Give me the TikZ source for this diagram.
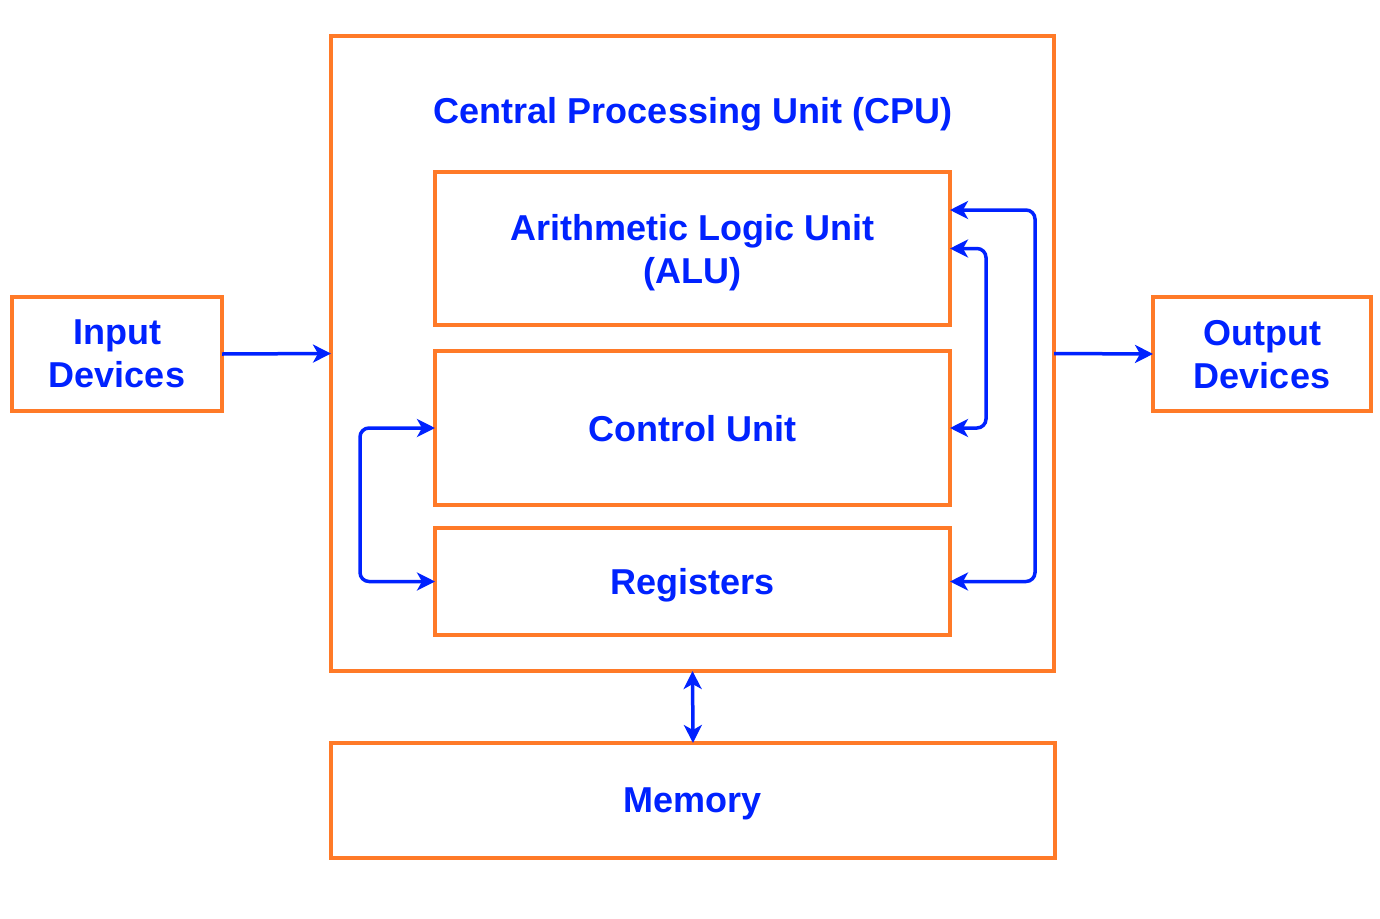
\documentclass[tikz,border=0pt]{standalone}
\usepackage{fontspec}
\setmainfont{Liberation Sans}
\usetikzlibrary{arrows.meta,positioning,calc}
\definecolor{boxorange}{RGB}{255,122,40}
\definecolor{lineblue}{RGB}{0,34,255}
\newcommand\nodep[1]{\raisebox{0pt}[\height][0pt]{#1}}
\begin{document}
\begin{tikzpicture}[x=1pt,y=-1pt,
  txt/.style={text=lineblue,align=center,font=\fontsize{36}{43}\selectfont\bfseries},
  box/.style={txt,draw=boxorange,line width=3.2pt,rectangle,inner sep=0pt,outer sep=0pt},
  conn/.style={draw=lineblue,line width=3.5pt,rounded corners=9pt,
    -{Stealth[length=18pt,width=18pt,inset=5pt]}},
  dconn/.style={conn,{Stealth[length=18pt,width=18pt,inset=5pt]}-{Stealth[length=18pt,width=18pt,inset=5pt]}}]
\useasboundingbox (0,0) rectangle (1380,918);
\node[box,minimum width=723pt,minimum height=635pt] (cpu) at (692.5,353.5) {};
\node[txt] (title) at (693,110) {\nodep{Central Processing Unit (CPU)}};
\node[box,minimum width=515pt,minimum height=153pt] (alu) at (692.5,248.5) {Arithmetic Logic Unit\\\nodep{(ALU)}};
\node[box,minimum width=515pt,minimum height=154pt] (cu) at (692.5,428) {\nodep{Control Unit}};
\node[box,minimum width=515pt,minimum height=107pt] (reg) at (692.5,581.5) {\nodep{Registers}};
\node[box,minimum width=210pt,minimum height=114pt] (inp) at (117,354) {Input\\\nodep{Devices}};
\node[box,minimum width=218pt,minimum height=114pt] (out) at (1262,354) {Output\\\nodep{Devices}};
\node[box,minimum width=724pt,minimum height=115pt] (mem) at (693,800.5) {\nodep{Memory}};
\draw[conn] (inp.east) -- (cpu.west);
\draw[conn] (cpu.east) -- (out.west);
\draw[dconn] (cpu.south) -- (mem.north);
\draw[dconn] (alu.east) -- ++(36,0) |- (cu.east);
\draw[dconn] ([yshift=38.5pt]alu.east) -- ++(85,0) |- (reg.east);
\draw[dconn] (cu.west) -- ++(-75,0) |- (reg.west);
\end{tikzpicture}
\end{document}
